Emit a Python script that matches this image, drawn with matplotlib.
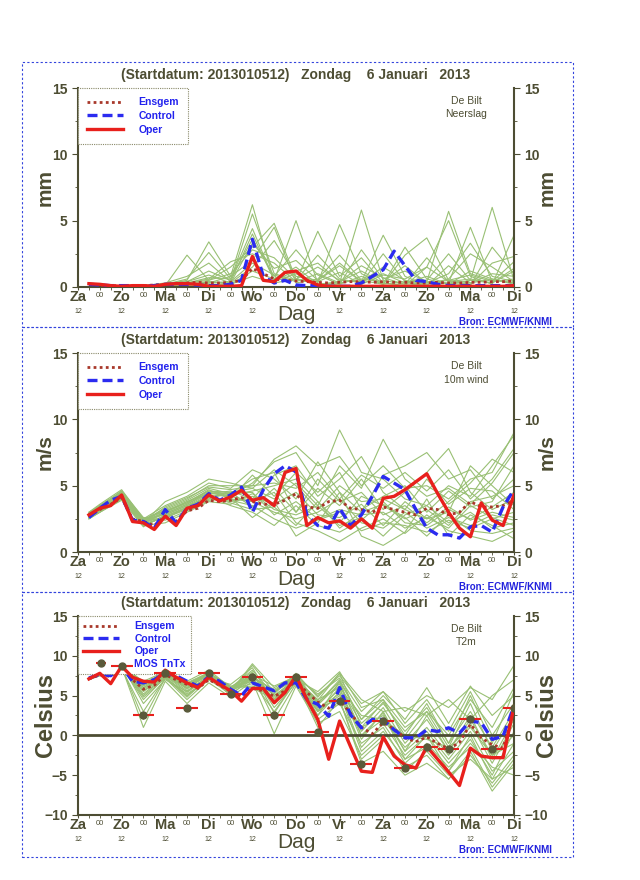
import matplotlib
matplotlib.use('Agg')
import matplotlib.pyplot as plt
from matplotlib.patches import Rectangle
from matplotlib.ticker import MultipleLocator

plt.rcParams.update({'font.family': ['Liberation Sans', 'DejaVu Sans'], 'font.weight': 'bold'})

OLIVE = '#4d4d33'
GREEN = '#99c074'
RED = '#e8201c'
BLUE = '#2b2bf0'
ENSGEM = '#a8382a'

TITLE = '(Startdatum: 2013010512)   Zondag    6 Januari   2013'
DAY_NAMES = ['Za', 'Zo', 'Ma', 'Di', 'Wo', 'Do', 'Vr', 'Za', 'Zo', 'Ma', 'Di']
DAY_HOURS = [0, 24, 48, 72, 96, 120, 144, 168, 192, 216, 240]
NIGHT_HOURS = [12, 36, 60, 84, 108, 132, 156, 180, 204, 228]

# forecast hours after 2013-01-05 12 UTC
HOURS = list(range(6, 241, 6))
MEMBER_HOURS = [6] + list(range(12, 241, 12))

# ---- precipitation (mm) ----
rain_oper = [0.25, 0.2, 0.1, 0.05, 0.1, 0.1, 0.05, 0.2, 0.25, 0.25, 0.2, 0.05, 0.05, 0.05, 0.1, 2.3,
             0.5, 0.4, 1.1, 1.2, 0.5, 0.15, 0.05, 0.05, 0.05, 0.05, 0.05, 0.05, 0.05, 0.05, 0.05, 0.05,
             0.05, 0.05, 0.05, 0.05, 0.05, 0.05, 0.05, 0.1]
rain_control = [0.2, 0.15, 0.1, 0.1, 0.1, 0.05, 0.1, 0.2, 0.2, 0.2, 0.15, 0.1, 0.1, 0.2, 0.5, 3.6,
                0.8, 0.3, 0.5, 0.15, 0.1, 0.1, 0.05, 0.05, 0.05, 0.3, 0.8, 1.3, 2.7, 1.6, 0.5, 0.4,
                0.2, 0.1, 0.1, 0.1, 0.1, 0.1, 0.1, 0.1]
rain_ensgem = [0.2, 0.15, 0.1, 0.1, 0.1, 0.1, 0.15, 0.2, 0.25, 0.3, 0.35, 0.3, 0.3, 0.35, 0.5, 1.4,
               1.0, 0.6, 0.5, 0.45, 0.4, 0.35, 0.3, 0.35, 0.4, 0.4, 0.35, 0.4, 0.35, 0.35, 0.3, 0.3,
               0.35, 0.3, 0.3, 0.35, 0.35, 0.4, 0.4, 0.45]
rain_members = [
    [0.2, 0.1, 0.1, 0.1, 0.2, 0.5, 3.4, 0.8, 6.2, 0.4, 1.0, 0.2, 0.3, 5.8, 0.5, 0.2, 0.4, 5.7, 1.0, 0.5, 0.3],
    [0.2, 0.1, 0.1, 0.1, 0.1, 2.4, 0.5, 1.5, 3.0, 4.8, 0.6, 1.5, 0.5, 0.4, 3.9, 0.8, 0.1, 0.3, 4.5, 0.4, 1.9],
    [0.2, 0.1, 0.1, 0.1, 0.3, 0.8, 1.8, 0.4, 4.0, 0.5, 5.0, 0.3, 4.7, 1.0, 0.2, 3.0, 0.6, 0.2, 0.5, 6.0, 0.5],
    [0.2, 0.1, 0.1, 0.1, 0.1, 0.3, 0.6, 1.9, 2.5, 1.8, 0.4, 4.2, 0.8, 2.2, 0.3, 0.1, 1.5, 5.0, 0.8, 0.2, 3.9],
    [0.2, 0.1, 0.1, 0.1, 0.1, 0.2, 0.4, 0.3, 1.5, 3.5, 0.8, 0.5, 1.8, 0.4, 1.5, 0.5, 0.2, 0.6, 2.5, 1.5, 0.4],
    [0.2, 0.1, 0.1, 0.1, 0.2, 0.6, 2.6, 0.6, 3.6, 0.8, 2.8, 0.9, 0.2, 2.8, 0.6, 1.2, 0.4, 0.3, 0.1, 3.0, 1.0],
    [0.2, 0.1, 0.1, 0.1, 0.1, 0.2, 0.3, 0.8, 2.0, 4.5, 0.3, 0.6, 2.4, 0.5, 0.2, 2.4, 3.7, 0.5, 0.3, 0.6, 0.2],
    [0.2, 0.1, 0.1, 0.1, 0.2, 0.4, 1.2, 0.5, 5.5, 1.0, 0.5, 2.4, 0.6, 0.3, 2.5, 0.4, 0.5, 2.5, 0.5, 0.3, 1.2],
    [0.2, 0.1, 0.1, 0.1, 0.1, 0.1, 0.4, 0.2, 1.2, 0.6, 1.5, 0.2, 0.4, 1.2, 0.3, 0.1, 0.3, 1.0, 3.3, 0.8, 0.4],
    [0.2, 0.1, 0.1, 0.1, 0.1, 0.3, 0.5, 1.0, 2.8, 2.2, 0.6, 0.4, 1.1, 0.2, 0.9, 0.6, 1.5, 0.4, 0.2, 1.8, 2.3],
    [0.2, 0.1, 0.1, 0.1, 0.1, 0.2, 0.3, 0.4, 1.8, 0.9, 0.4, 1.0, 0.3, 0.6, 0.4, 1.6, 0.3, 0.5, 0.9, 0.4, 0.6],
    [0.2, 0.1, 0.1, 0.1, 0.2, 0.4, 0.9, 0.3, 3.3, 1.4, 2.0, 0.5, 1.6, 0.4, 1.0, 0.3, 0.8, 0.2, 1.2, 0.6, 0.3],
    [0.2, 0.1, 0.1, 0.1, 0.1, 0.1, 0.2, 0.2, 0.8, 0.3, 0.6, 0.2, 0.2, 0.8, 0.2, 0.4, 0.1, 1.6, 0.3, 1.0, 0.8],
    [0.2, 0.1, 0.1, 0.1, 0.1, 0.3, 0.7, 0.6, 4.4, 0.5, 1.2, 1.8, 0.4, 1.6, 0.7, 0.2, 2.2, 0.4, 0.6, 0.3, 1.4],
]

# ---- 10m wind (m/s) ----
wind_oper = [2.8, 3.3, 3.5, 4.3, 2.3, 2.2, 1.7, 2.7, 2.0, 3.3, 3.5, 4.3, 3.85, 4.15, 4.65, 3.9,
             4.1, 3.5, 6.0, 6.3, 2.0, 2.6, 2.2, 2.35, 1.8, 2.5, 1.8, 4.05, 4.2, 4.7, 5.3, 5.9,
             4.4, 3.0, 1.8, 1.15, 3.7, 2.4, 2.0, 4.3]
wind_control = [2.6, 3.3, 3.9, 4.2, 2.4, 2.3, 1.8, 3.2, 2.2, 3.3, 3.6, 4.4, 3.9, 4.3, 4.9, 3.0,
                4.7, 5.9, 6.5, 6.05, 2.8, 2.0, 1.8, 3.3, 2.0, 2.8, 4.2, 5.7, 5.2, 4.7, 3.2, 1.8,
                1.3, 1.3, 1.05, 1.9, 2.0, 1.5, 3.4, 4.7]
wind_ensgem = [2.7, 3.2, 3.6, 4.1, 2.5, 2.3, 2.0, 2.7, 2.3, 3.1, 3.3, 3.9, 3.8, 3.9, 4.1, 3.8,
               3.6, 3.6, 3.9, 4.4, 3.4, 3.3, 3.8, 3.9, 3.3, 3.2, 3.0, 3.4, 3.2, 3.0, 2.8, 3.3,
               3.2, 2.8, 3.0, 3.8, 3.4, 3.4, 3.5, 3.9]
wind_members = [
    [2.6, 3.2, 4.3, 2.2, 2.9, 3.6, 4.5, 4.2, 5.2, 6.8, 7.5, 5.0, 9.2, 6.0, 5.5, 4.0, 3.5, 5.0, 4.2, 6.5, 8.8],
    [2.8, 3.4, 4.5, 2.4, 2.5, 3.4, 4.0, 3.9, 3.5, 2.5, 1.8, 2.4, 3.0, 1.6, 2.2, 2.0, 1.5, 2.4, 1.8, 2.5, 3.0],
    [3.0, 3.6, 4.7, 2.5, 3.5, 4.2, 5.2, 4.8, 6.2, 5.5, 4.0, 6.8, 4.5, 3.0, 5.8, 6.5, 7.5, 5.5, 6.2, 4.0, 5.5],
    [2.5, 3.0, 4.0, 2.0, 2.2, 3.0, 3.8, 3.6, 4.4, 3.2, 2.8, 3.5, 2.0, 2.6, 1.2, 2.8, 3.5, 2.2, 3.0, 1.8, 2.2],
    [2.7, 3.3, 4.2, 2.3, 3.0, 3.8, 4.4, 4.6, 4.0, 5.8, 6.5, 4.2, 5.5, 7.2, 4.5, 3.2, 2.5, 3.8, 5.2, 7.0, 6.0],
    [2.9, 3.5, 4.4, 2.1, 2.6, 3.3, 4.2, 3.5, 3.0, 2.0, 3.5, 2.0, 1.5, 2.4, 3.8, 2.2, 2.0, 3.2, 2.5, 3.4, 4.5],
    [2.6, 3.1, 4.1, 2.2, 3.8, 4.5, 5.5, 5.2, 4.8, 4.0, 5.2, 3.5, 6.5, 4.8, 8.5, 5.5, 4.2, 4.8, 3.6, 5.2, 7.5],
    [2.8, 3.3, 4.6, 2.6, 2.4, 3.1, 3.9, 4.0, 3.8, 4.5, 2.2, 1.6, 0.8, 1.8, 2.5, 1.4, 2.8, 1.6, 1.2, 0.8, 1.6],
    [2.7, 3.2, 4.3, 2.4, 3.2, 3.9, 4.8, 4.4, 5.5, 6.0, 3.0, 4.8, 3.5, 5.5, 3.2, 4.5, 6.0, 7.8, 4.5, 3.2, 4.0],
    [2.5, 3.0, 3.9, 1.9, 2.8, 3.5, 4.1, 3.8, 4.2, 3.6, 4.5, 2.8, 2.6, 3.6, 2.0, 3.8, 2.5, 3.0, 6.5, 5.0, 3.5],
    [3.0, 3.5, 4.5, 2.4, 3.3, 4.0, 5.0, 5.0, 5.0, 7.0, 8.0, 6.5, 7.2, 5.0, 6.5, 4.8, 5.0, 4.0, 5.5, 6.0, 9.0],
    [2.6, 3.2, 4.2, 2.2, 2.7, 3.4, 4.3, 4.2, 3.8, 3.0, 2.5, 3.0, 4.0, 2.2, 1.8, 3.0, 1.8, 2.6, 2.0, 2.8, 2.4],
    [2.8, 3.4, 4.4, 2.5, 3.1, 3.7, 4.6, 4.3, 4.6, 5.0, 5.5, 3.8, 2.2, 4.2, 3.5, 2.5, 3.2, 2.0, 3.8, 4.2, 5.0],
    [2.7, 3.3, 4.3, 2.3, 2.9, 3.6, 4.5, 4.1, 2.6, 3.8, 1.2, 2.2, 4.5, 1.2, 0.5, 1.5, 4.0, 1.2, 2.8, 2.0, 1.0],
    [2.6, 3.1, 4.0, 2.1, 2.6, 3.2, 4.0, 4.5, 3.4, 4.8, 3.0, 5.5, 3.8, 4.5, 2.8, 3.5, 2.2, 3.4, 2.4, 3.0, 2.6],
    [2.9, 3.4, 4.4, 2.3, 3.0, 3.7, 4.7, 4.0, 5.8, 4.2, 6.0, 4.5, 6.0, 3.2, 4.2, 5.0, 3.0, 4.6, 3.4, 3.8, 6.5],
    [2.7, 3.3, 4.2, 2.5, 2.8, 3.5, 4.4, 4.4, 4.5, 2.8, 3.8, 2.5, 3.2, 2.8, 3.0, 1.8, 2.6, 1.8, 3.5, 2.6, 2.0],
    [2.8, 3.2, 4.4, 2.2, 3.4, 4.1, 4.9, 4.7, 5.0, 5.2, 4.8, 6.0, 4.0, 5.8, 4.8, 6.0, 4.6, 6.2, 4.0, 5.5, 7.8],
    [2.6, 3.0, 4.1, 2.0, 2.7, 3.3, 4.2, 3.7, 3.2, 3.4, 2.0, 3.8, 1.8, 3.0, 3.6, 2.6, 1.2, 2.8, 1.6, 1.4, 1.8],
    [2.9, 3.5, 4.6, 2.4, 3.1, 3.8, 4.6, 4.5, 4.8, 6.2, 5.0, 3.2, 5.0, 3.8, 4.0, 3.2, 5.5, 3.6, 4.8, 4.6, 3.2],
]

# ---- 2m temperature (Celsius) ----
t2m_oper = [7.1, 7.8, 6.5, 8.7, 7.3, 6.8, 6.7, 8.2, 7.3, 6.6, 6.0, 7.3, 6.4, 5.6, 4.3, 5.9,
            5.9, 4.1, 5.4, 7.5, 4.5, 2.0, -3.0, 1.8, -1.4, -4.5, -4.65, -0.2, -2.6, -3.7, -4.1, -1.4,
            -3.0, -4.6, -6.3, -1.6, -2.6, -2.8, -2.8, 3.6]
t2m_control = [7.2, 7.7, 7.5, 8.7, 6.8, 6.6, 7.0, 7.9, 7.5, 6.8, 6.2, 7.4, 6.8, 5.8, 5.0, 6.6,
               6.1, 5.6, 6.6, 6.6, 4.5, 3.9, 2.4, 6.0, 2.6, 0.95, 2.0, 2.0, 0.7, -0.3, -0.3, 0.7,
               0.5, 0.95, 0.3, 1.8, 1.6, -0.5, -0.1, 3.7]
t2m_ensgem = [7.1, 7.6, 7.4, 8.6, 7.0, 5.8, 6.3, 7.6, 7.0, 6.4, 5.9, 7.0, 6.3, 5.5, 4.9, 5.9,
              5.6, 4.9, 5.6, 6.9, 5.4, 4.2, 3.4, 4.4, 2.8, 1.0, 0.2, 1.6, 0.8, -0.3, -0.8, -0.2,
              -1.0, -1.7, -0.9, 1.4, -0.3, -1.2, -1.6, 3.2]
t2m_members = [
    [7.1, 7.6, 8.8, 6.5, 7.8, 6.0, 7.6, 5.8, 6.5, 5.5, 7.0, 4.5, 6.0, 2.5, 2.0, 0.0, -0.5, -1.5, 1.0, -2.5, -1.0],
    [7.2, 7.7, 8.6, 2.0, 7.2, 4.5, 7.0, 5.5, 9.0, 6.0, 7.5, 5.0, 7.5, 4.0, 5.5, 3.0, 5.0, 3.5, 6.0, 4.5, 8.8],
    [7.0, 7.5, 8.5, 5.5, 7.5, 6.5, 7.8, 6.2, 6.0, 4.5, 6.8, 3.0, 5.0, 1.0, 2.5, -2.0, 0.5, -3.0, 0.5, -4.5, -2.0],
    [7.1, 7.7, 8.9, 4.0, 7.0, 5.5, 7.4, 5.0, 7.5, 2.0, 6.5, 2.0, 4.0, -1.0, 1.0, -3.5, -1.0, -4.0, -1.5, -6.5, -3.0],
    [7.2, 7.8, 8.7, 6.8, 8.0, 6.8, 8.2, 6.0, 8.2, 5.0, 7.0, 5.5, 8.0, 3.5, 4.5, 1.0, 3.0, 0.0, 4.5, 1.0, 6.0],
    [7.0, 7.6, 8.6, 1.0, 6.8, 4.0, 6.6, 4.8, 6.8, 0.2, 6.2, 1.5, 3.0, -2.5, 0.0, -4.5, -2.0, -5.0, -3.0, -5.5, -1.0],
    [7.2, 7.7, 8.8, 6.2, 7.6, 6.2, 7.8, 5.6, 7.2, 5.8, 7.2, 3.8, 6.5, 0.5, 3.5, -1.0, 2.0, -2.0, 2.5, -3.0, 2.0],
    [7.1, 7.6, 8.7, 5.0, 7.4, 5.0, 7.2, 6.4, 8.5, 4.0, 7.6, 4.0, 7.0, 2.0, 5.0, 2.0, 6.0, 1.5, 6.2, 2.5, 5.0],
    [7.1, 7.7, 8.8, 6.0, 7.8, 5.8, 8.0, 5.4, 7.8, 3.5, 6.6, 2.5, 5.5, -1.5, 1.5, -2.5, 0.0, -3.5, -0.5, -5.0, 0.5],
    [7.0, 7.5, 8.4, 3.0, 7.2, 5.2, 7.0, 5.2, 7.0, 5.2, 7.8, 4.8, 7.8, 4.5, 3.0, 3.5, 2.5, 4.5, 2.0, 5.0, 7.0],
    [7.2, 7.8, 9.0, 6.6, 7.9, 6.4, 7.6, 6.0, 6.2, 4.8, 7.0, 3.5, 4.5, -3.5, -2.0, -5.0, -3.5, -5.5, -2.5, -6.0, -2.5],
    [7.1, 7.6, 8.6, 5.8, 7.6, 5.6, 7.5, 5.7, 7.4, 5.6, 7.3, 4.2, 6.2, 1.5, 4.0, 0.5, 3.5, -1.0, 3.0, -1.5, 3.0],
    [7.1, 7.7, 8.7, 4.5, 7.3, 4.8, 7.3, 5.9, 8.0, 2.8, 6.9, 3.2, 5.8, 0.0, 2.0, -1.5, 1.0, -2.5, 1.5, -3.5, 1.5],
    [7.2, 7.6, 8.8, 6.4, 7.7, 6.6, 7.9, 6.1, 7.6, 6.2, 7.4, 5.2, 7.2, 3.0, 5.5, 1.5, 4.5, 0.5, 5.5, 0.0, 4.0],
    [7.1, 7.6, 8.7, 5.2, 7.5, 5.4, 7.3, 5.5, 7.1, 4.2, 7.0, 3.0, 6.0, -0.5, 3.0, -2.0, 2.5, -2.0, 2.0, -2.5, 0.0],
    [7.0, 7.6, 8.6, 6.0, 7.4, 6.0, 7.6, 5.8, 7.5, 5.0, 7.1, 4.0, 6.8, 0.0, 2.8, -3.0, 0.0, -4.5, 0.0, -5.5, -4.0],
    [7.2, 7.7, 8.8, 5.6, 7.7, 5.9, 7.7, 5.9, 7.7, 4.6, 7.2, 3.4, 5.2, -2.0, 0.5, -3.0, -1.5, -4.5, -1.0, -4.0, -5.0],
    [7.1, 7.7, 8.7, 6.3, 7.9, 6.3, 7.9, 5.3, 8.8, 5.4, 7.5, 2.5, 6.8, 2.0, 4.5, -0.5, 3.0, -1.5, 4.0, -2.0, 2.5],
    [7.1, 7.6, 8.6, 4.8, 7.2, 5.0, 7.1, 6.0, 6.8, 3.0, 6.8, 1.0, 4.5, -3.0, -0.5, -4.0, -2.5, -5.5, -2.0, -7.0, -3.5],
    [7.2, 7.8, 8.9, 6.5, 7.8, 6.2, 7.7, 5.7, 7.3, 5.6, 7.1, 4.4, 7.8, 1.0, 4.2, 0.0, 4.0, -1.0, 5.0, -1.0, 5.5],
]

# MOS minimum / maximum temperature guidance
mos_hours = [24, 36, 48, 60, 72, 84, 96, 108, 120, 132, 144, 156, 168, 180, 192, 204, 216, 228, 240]
mos_values = [8.7, 2.6, 7.9, 3.5, 7.8, 5.2, 7.3, 2.5, 7.3, 0.4, 4.3, -3.6, 1.8, -4.1, -1.5, -1.7, 2.0, -1.7, 3.5]

fig = plt.figure(figsize=(6.4, 8.8), dpi=100)

panels = [
    dict(bottom=0.6739, frame=(62, 327), members=rain_members, ensgem=rain_ensgem,
         control=rain_control, oper=rain_oper, ylim=(0, 15), ylabel='mm', var='Neerslag', fs=15),
    dict(bottom=0.3727, frame=(327, 592), members=wind_members, ensgem=wind_ensgem,
         control=wind_control, oper=wind_oper, ylim=(0, 15), ylabel='m/s', var='10m wind', fs=15),
    dict(bottom=0.0739, frame=(592, 857), members=t2m_members, ensgem=t2m_ensgem,
         control=t2m_control, oper=t2m_oper, ylim=(-10, 15), ylabel='Celsius', var='T2m', fs=17),
]

for p in panels:
    # dashed panel border
    top_px, bot_px = p['frame']
    fig.patches.append(Rectangle((22 / 640, 1 - bot_px / 880), 551 / 640, (bot_px - top_px) / 880,
                                 transform=fig.transFigure, fill=False, edgecolor='#3344dd',
                                 linewidth=0.8, linestyle=(0, (2, 2))))

    ax = fig.add_axes([0.1219, p['bottom'], 0.6812, 0.2261])
    for m in p['members']:
        ax.plot(MEMBER_HOURS, m, color=GREEN, linewidth=0.8, zorder=2)
    l1, = ax.plot(HOURS, p['ensgem'], color=ENSGEM, linewidth=2, linestyle=(0, (1, 1.2)),
                  label='Ensgem', zorder=4)
    l2, = ax.plot(HOURS, p['control'], color=BLUE, linewidth=2.4, linestyle=(0, (3, 1.5)),
                  label='Control', zorder=5)
    l3, = ax.plot(HOURS, p['oper'], color=RED, linewidth=2.4, label='Oper', zorder=6)
    handles = [l1, l2, l3]

    if p['var'] == 'T2m':
        ax.axhline(0, color=OLIVE, linewidth=2, zorder=3)
        mos = ax.errorbar(mos_hours, mos_values, xerr=6, fmt='o', color='#5a5a3a', markersize=5,
                          ecolor=RED, elinewidth=1.5, capsize=0, zorder=7, label='MOS TnTx')
        handles.append(mos)

    ax.set_xlim(0, 240)
    ax.set_ylim(*p['ylim'])

    ax.spines['top'].set_visible(False)
    for s in ['left', 'right', 'bottom']:
        ax.spines[s].set_color(OLIVE)
        ax.spines[s].set_linewidth(1.5)

    ax.yaxis.set_major_locator(MultipleLocator(5))
    ax.yaxis.set_minor_locator(MultipleLocator(2.5))
    ax.tick_params(axis='y', which='both', left=True, right=True, labelleft=True, labelright=True,
                   colors=OLIVE, labelsize=10, direction='out')
    ax.tick_params(axis='y', which='major', length=4)
    ax.tick_params(axis='y', which='minor', length=2)
    ax.set_xticks(DAY_HOURS)
    ax.set_xticklabels([])
    ax.xaxis.set_minor_locator(MultipleLocator(6))
    ax.tick_params(axis='x', which='both', colors=OLIVE, length=2, direction='out')

    xform = ax.get_xaxis_transform()
    for h, name in zip(DAY_HOURS, DAY_NAMES):
        ax.text(h, -0.05, name, transform=xform, ha='center', va='center',
                fontsize=10.5, color=OLIVE)
        if h != 120:
            ax.text(h, -0.125, '12', transform=xform, ha='center', va='center',
                    fontsize=5, color=OLIVE, fontweight='normal')
    for h in NIGHT_HOURS:
        ax.text(h, -0.045, '00', transform=xform, ha='center', va='center',
                fontsize=5.5, color=OLIVE, fontweight='normal')
    ax.text(0.5, -0.14, 'Dag', transform=ax.transAxes, ha='center', va='center',
            fontsize=15, color=OLIVE, fontweight='normal')

    ax.text(-0.075, 0.5, p['ylabel'], transform=ax.transAxes, rotation=90, ha='center',
            va='center', fontsize=p['fs'], color=OLIVE)
    ax.text(1.075, 0.5, p['ylabel'], transform=ax.transAxes, rotation=90, ha='center',
            va='center', fontsize=p['fs'], color=OLIVE)

    ax.text(0.5, 1.065, TITLE, transform=ax.transAxes, ha='center', va='center',
            fontsize=10, color=OLIVE)
    ax.text(0.89, 0.9, 'De Bilt\n' + p['var'], transform=ax.transAxes, ha='center',
            va='center', fontsize=7.5, color=OLIVE, fontweight='normal', linespacing=1.4)
    ax.text(0.98, -0.178, 'Bron: ECMWF/KNMI', transform=ax.transAxes, ha='center',
            va='center', fontsize=7, color='#2222dd')

    leg = ax.legend(handles=handles, loc='upper left', bbox_to_anchor=(0, 1), borderaxespad=0,
                    fontsize=7.5, labelcolor='#2222ee', handlelength=3.4, handletextpad=1.5,
                    labelspacing=0.25 if p['var'] == 'T2m' else 0.35,
                    borderpad=0.9 if p['var'] != 'T2m' else 0.5, fancybox=False,
                    framealpha=1, edgecolor='#8a8a6a')
    leg.get_frame().set_linewidth(0.8)
    leg.get_frame().set_linestyle((0, (1, 1)))

fig.savefig('out.png', dpi=100)
